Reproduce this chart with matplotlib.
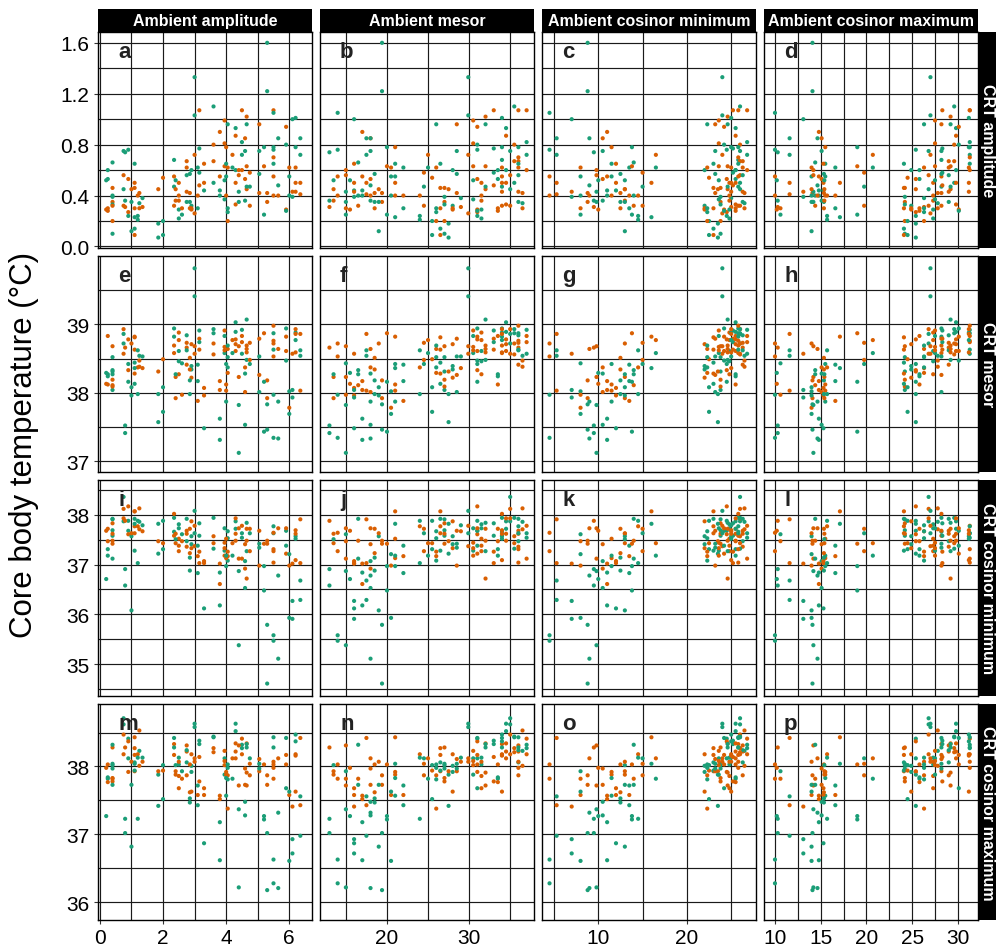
import matplotlib
matplotlib.use("Agg")
import matplotlib.pyplot as plt
from matplotlib.ticker import FormatStrFormatter

plt.rcParams['font.family'] = ['Liberation Sans', 'DejaVu Sans']

# ---------------- data ----------------
# ambient conditions (one stripe per condition)
amb_amp   = [0.25, 0.4, 0.75, 0.9, 1.1, 1.25, 1.35, 1.85, 2.0, 2.35, 2.5, 2.75, 2.9, 3.0, 3.15,
             3.6, 3.95, 4.05, 4.3, 4.5, 4.65, 5.05, 5.5, 5.9, 6.2,
             5.5, 5.3, 6.35, 6.0, 4.4, 4.6, 3.8, 4.0, 3.3, 2.85, 2.4, 3.1, 1.0, 0.4, 1.2,
             4.75, 5.2, 4.2, 0.8, 1.1, 0.2, 2.6, 5.65, 6.1]
amb_mesor = [33.5, 27.0, 35.0, 31.0, 26.5, 36.5, 29.0, 27.5, 25.5, 34.0, 31.5, 36.0, 28.0, 29.9, 33.0,
             35.5, 30.5, 26.0, 34.5, 37.0, 32.0, 28.5, 36.0, 31.0, 34.0,
             14.0, 19.4, 17.5, 20.5, 15.0, 18.0, 17.0, 21.0, 16.0, 18.5, 13.5, 22.0, 19.0, 16.5, 24.0,
             24.5, 20.0, 25.0, 13.0, 21.0, 15.5, 15.0, 18.0, 16.0]
amb_min   = [25.5, 23.8, 26.0, 24.5, 23.0, 26.5, 25.0, 23.5, 22.5, 25.8, 24.8, 26.3, 22.0, 24.0, 25.2,
             26.0, 23.6, 22.3, 25.5, 26.8, 24.6, 23.2, 25.8, 24.2, 25.0,
             4.5, 8.8, 5.3, 8.0, 9.8, 10.5, 11.0, 11.5, 12.0, 12.5, 13.0, 13.5, 13.0, 14.0, 14.5,
             15.0, 13.8, 16.5, 9.5, 16.0, 10.0, 8.0, 9.0, 7.0]
amb_max   = [25.8, 24.2, 26.8, 25.4, 24.1, 27.8, 26.3, 25.4, 24.5, 28.2, 27.3, 29.0, 24.9, 27.0, 28.3,
             29.6, 27.5, 26.3, 29.8, 31.3, 29.2, 28.2, 31.3, 30.1, 31.2,
             10.0, 14.1, 11.6, 14.0, 14.2, 15.1, 14.8, 15.5, 15.3, 15.35, 15.4, 16.6, 14.0, 14.4, 15.7,
             19.75, 19.0, 20.7, 10.3, 17.1, 10.2, 10.6, 14.65, 13.1]

# animals per condition: group (O = orange, G = green) and core body temperature metrics
groups = ["OGOG", "GOGOGO", "GOOG", "GOOG", "OGOGO", "OGO", "GO", "GOG", "GGO", "OGOG", "OGOGO",
          "OOGOG", "GOGO", "GGOO", "OGOG", "GOOG", "OGOGO", "GOGOG", "OGOGO", "OGOG", "GOOGO",
          "OGOG", "OGOG", "OGOG", "OGOGO",
          "GOGO", "GGOO", "GOOG", "GOG", "GOGO", "OGOG", "GOOG", "OGOG", "OGO", "GOGO", "OGO",
          "GOG", "GOG", "GOG", "OGG", "OGO", "GOG", "OG", "GOG", "OG", "GO", "OG", "GOG", "GOG"]
cbt_amp = [[0.30, 0.60, 0.28, 0.53], [0.10, 0.46, 0.39, 0.35, 0.33, 0.20], [0.75, 0.56, 0.32, 0.45],
           [0.76, 0.53, 0.27, 0.24], [0.30, 0.14, 0.46, 0.65, 0.09], [0.42, 0.34, 0.30], [0.38, 0.31],
           [0.07, 0.45, 0.18], [0.09, 0.20, 0.54], [0.55, 0.47, 0.32, 0.68], [0.40, 0.29, 0.50, 0.22, 0.36],
           [0.67, 0.62, 0.56, 0.43, 0.35], [0.32, 0.30, 0.60, 0.29], [1.33, 1.03, 0.72, 0.26],
           [1.07, 0.77, 0.48, 0.58], [1.10, 0.80, 0.67, 0.50], [0.99, 0.52, 0.63, 0.37, 0.81],
           [0.27, 0.62, 0.30, 0.20, 0.96], [0.87, 0.60, 0.50, 0.93, 0.33], [1.07, 0.82, 0.60, 0.72],
           [0.96, 0.63, 0.45, 0.47, 1.02], [0.42, 0.75, 0.96, 0.57], [1.07, 0.78, 0.70, 0.65],
           [0.94, 0.80, 0.29, 0.28], [0.62, 1.01, 0.43, 0.78, 0.50],
           [1.05, 0.55, 0.76, 0.40], [1.60, 1.22, 0.42, 0.35], [0.72, 0.50, 0.41, 0.85], [0.55, 0.62, 0.40],
           [0.35, 0.56, 0.43, 0.60], [0.53, 0.36, 0.85, 0.75], [0.44, 0.55, 0.90, 0.40], [0.78, 0.55, 0.40, 0.65],
           [0.50, 0.44, 0.65], [0.35, 0.42, 0.57, 0.30], [0.45, 0.52, 0.36], [0.30, 0.40, 0.62],
           [0.12, 0.45, 0.35], [0.40, 0.32, 0.66], [0.40, 0.24, 0.21], [0.58, 0.47, 0.32], [0.78, 0.63, 0.25],
           [0.72, 0.62], [0.74, 0.31, 0.36], [0.50, 0.23], [0.52, 0.29], [0.30, 0.25], [0.85, 0.40, 0.48],
           [1.00, 0.43, 0.39]]
cbt_mesor = [[38.83, 38.27, 38.12, 38.24], [38.31, 38.68, 38.04, 38.19, 38.52, 38.09], [38.72, 38.93, 38.57, 38.86],
             [38.42, 38.78, 38.33, 38.16], [38.28, 38.44, 38.63, 38.13, 38.81], [38.38, 38.54, 38.47], [38.53, 38.36],
             [37.98, 38.31, 37.57], [38.08, 37.72, 38.49], [38.69, 38.82, 38.58, 38.94], [38.77, 38.61, 38.88, 38.46, 38.27],
             [38.73, 38.66, 38.62, 38.41, 38.84], [38.34, 38.22, 38.39, 38.71], [39.82, 39.41, 38.57, 38.68],
             [38.79, 38.91, 38.63, 38.74], [38.87, 38.72, 38.56, 38.93], [38.91, 38.58, 38.67, 38.83, 38.62],
             [38.52, 38.64, 38.37, 38.29, 38.69], [38.71, 38.89, 38.78, 39.03, 38.61], [38.74, 38.57, 38.83, 38.92],
             [39.07, 38.69, 38.64, 38.48, 38.59], [38.26, 38.01, 38.79, 38.53], [38.98, 38.87, 38.76, 38.63],
             [38.82, 38.94, 38.61, 38.47], [38.59, 38.88, 38.93, 38.77, 38.86],
             [37.97, 38.53, 37.34, 38.72], [37.46, 37.83, 38.18, 37.92], [38.54, 38.86, 38.03, 38.62], [38.02, 37.78, 37.69],
             [37.12, 38.68, 37.82, 38.23], [38.37, 38.28, 38.01, 37.53], [37.62, 38.04, 38.17, 37.31], [38.03, 37.87, 38.12, 38.42],
             [38.07, 37.48, 37.96], [38.18, 38.34, 37.98, 38.51], [38.23, 38.27, 37.92], [38.41, 37.88, 38.17],
             [37.96, 38.72, 38.08], [38.33, 38.11, 38.27], [38.37, 38.62, 37.98], [38.73, 38.42, 38.48], [38.16, 38.87, 37.43],
             [38.77, 38.58], [37.52, 38.66, 37.41], [38.82, 38.36], [38.29, 38.13], [37.97, 38.43], [37.33, 38.64, 37.87],
             [38.04, 38.57, 37.93]]
cbt_min = [[37.72, 37.18, 37.47, 37.31], [37.91, 37.83, 37.58, 37.42, 37.69, 37.62], [37.87, 38.12, 37.93, 38.36],
           [37.68, 38.17, 37.61, 37.88], [37.63, 37.92, 37.77, 37.28, 38.07], [38.13, 37.86, 37.71], [37.79, 37.67],
           [37.82, 37.47, 37.22], [37.88, 37.31, 37.43], [37.58, 37.94, 38.02, 37.66], [37.38, 37.73, 37.52, 37.81, 37.27],
           [37.62, 37.68, 37.47, 37.36, 37.92], [37.57, 37.33, 37.41, 37.87], [38.08, 37.63, 37.37, 37.78],
           [37.03, 37.58, 37.26, 37.83], [37.32, 37.43, 37.57, 37.94], [37.18, 37.28, 37.44, 37.73, 37.33],
           [37.67, 37.26, 37.53, 37.17, 37.08], [37.48, 37.87, 37.62, 37.72, 37.93], [37.12, 37.54, 37.78, 37.63],
           [37.27, 37.72, 37.48, 37.84, 36.72], [37.68, 37.34, 36.98, 37.42], [37.04, 37.63, 37.31, 37.77],
           [37.22, 37.68, 37.73, 37.38], [37.09, 37.52, 37.69, 37.57, 37.62],
           [35.58, 37.27, 35.47, 37.64], [34.61, 35.79, 37.48, 37.42], [36.29, 37.91, 37.03, 36.68], [35.93, 36.98, 37.21],
           [35.38, 37.73, 36.87, 37.12], [37.41, 37.07, 36.92, 36.53], [36.84, 37.02, 36.61, 36.18], [37.13, 36.97, 37.52, 37.18],
           [37.07, 36.12, 37.03], [37.14, 37.23, 36.88, 37.72], [37.43, 37.51, 37.62], [37.38, 37.17, 36.83],
           [37.57, 37.63, 36.08], [37.92, 37.48, 37.12], [37.77, 37.88, 37.03], [37.27, 37.63, 37.72], [36.48, 37.42, 36.97],
           [37.43, 37.18], [36.58, 37.88, 36.91], [38.07, 37.82], [36.71, 37.68], [37.47, 37.61], [35.11, 37.73, 36.78],
           [35.91, 37.02, 36.27]]
cbt_max = [[38.03, 37.82, 37.77, 37.84], [37.97, 38.28, 38.02, 37.78, 38.04, 37.83], [38.62, 38.47, 38.18, 38.71],
           [38.41, 38.37, 37.92, 38.12], [37.93, 38.06, 38.27, 37.94, 38.17], [38.53, 38.23, 38.01], [38.13, 38.07],
           [37.88, 37.93, 37.42], [38.02, 37.52, 37.94], [38.17, 38.42, 38.33, 38.28], [37.86, 38.03, 38.07, 38.13, 37.68],
           [38.22, 38.31, 38.06, 37.87, 38.24], [37.92, 37.63, 38.01, 38.18], [38.63, 38.58, 38.12, 38.07],
           [38.14, 38.38, 37.78, 38.33], [38.43, 38.21, 38.27, 38.44], [38.23, 37.88, 38.02, 38.12, 38.08],
           [38.03, 37.87, 37.81, 37.38, 37.98], [38.34, 38.52, 38.12, 38.63, 38.22], [38.18, 38.32, 38.41, 38.27],
           [38.28, 38.34, 37.91, 38.33, 37.72], [38.11, 38.04, 37.93, 37.97], [38.07, 38.28, 37.98, 38.43],
           [38.17, 38.42, 38.03, 37.68], [37.63, 38.47, 38.18, 38.37, 38.16],
           [36.63, 37.82, 36.28, 38.03], [36.18, 37.02, 37.87, 37.73], [36.98, 38.42, 37.43, 37.56], [36.61, 37.58, 37.63],
           [36.22, 38.31, 37.37, 37.72], [37.97, 37.48, 37.73, 37.28], [37.18, 37.57, 37.52, 36.62], [37.92, 37.57, 37.88, 37.83],
           [37.58, 36.87, 37.68], [37.53, 37.62, 37.47, 38.03], [37.88, 38.02, 37.93], [37.72, 37.58, 37.43],
           [37.73, 38.07, 36.82], [38.32, 37.82, 37.73], [38.18, 38.13, 37.23], [37.87, 38.12, 38.04], [37.27, 38.03, 37.22],
           [38.12, 37.82], [37.02, 38.28, 37.23], [38.43, 38.04], [37.27, 37.98], [37.82, 37.93], [36.21, 38.12, 37.32],
           [36.93, 37.41, 36.72]]

col_titles = ["Ambient amplitude", "Ambient mesor", "Ambient cosinor minimum", "Ambient cosinor maximum"]
row_titles = ["CRT amplitude", "CRT mesor", "CRT cosinor minimum", "CRT cosinor maximum"]
panel_letters = list("abcdefghijklmnop")
ylabel = "Core body temperature (°C)"

x_major = [[0, 2, 4, 6], [20, 30], [10, 20], [10, 15, 20, 25, 30]]
x_minor = [[1, 3, 5], [15, 25, 35], [5, 15, 25], [12.5, 17.5, 22.5, 27.5]]
y_major = [[0.0, 0.4, 0.8, 1.2, 1.6], [37, 38, 39], [35, 36, 37, 38], [36, 37, 38]]
y_minor = [[0.2, 0.6, 1.0, 1.4], [37.5, 38.5, 39.5], [34.5, 35.5, 36.5, 37.5, 38.5], [36.5, 37.5, 38.5]]
xlims = [(-0.06, 6.72), (11.85, 37.9), (3.65, 27.8), (8.8, 32.2)]
ylims = [(-0.012, 1.685), (36.84, 40.0), (34.36, 38.70), (35.74, 38.92)]

colors = {"O": "#D95F02", "G": "#1B9E77"}

# flatten animals
xs_cols = [amb_amp, amb_mesor, amb_min, amb_max]
ys_rows = [cbt_amp, cbt_mesor, cbt_min, cbt_max]
flat_x = [[], [], [], []]
flat_y = [[], [], [], []]
flat_c = []
for ci, g in enumerate(groups):
    for k, letter in enumerate(g):
        flat_c.append(colors[letter])
        for j in range(4):
            flat_x[j].append(xs_cols[j][ci])
        for i in range(4):
            flat_y[i].append(ys_rows[i][ci][k])

# ---------------- layout ----------------
W, H = 996, 953
fig = plt.figure(figsize=(W / 100, H / 100), dpi=100)
col_left = [98, 320, 542, 764]
pw = 214
row_top = [33, 257, 481, 705]
ph = 216


def fx(px):
    return px / W


def fy(py):
    return 1 - py / H


grid_c = "#1a1a1a"
for i in range(4):
    for j in range(4):
        ax = fig.add_axes([fx(col_left[j]), fy(row_top[i] + ph), pw / W, ph / H])
        ax.set_xlim(*xlims[j])
        ax.set_ylim(*ylims[i])
        ax.set_xticks(x_major[j])
        ax.set_xticks(x_minor[j], minor=True)
        ax.set_yticks(y_major[i])
        ax.set_yticks(y_minor[i], minor=True)
        ax.grid(True, which="major", color=grid_c, lw=0.85, zorder=0)
        ax.grid(True, which="minor", color=grid_c, lw=0.85, zorder=0)
        ax.set_axisbelow(True)
        ax.scatter(flat_x[j], flat_y[i], s=9, c=flat_c, edgecolors="none", zorder=3)
        for sp in ax.spines.values():
            sp.set_color("black")
            sp.set_linewidth(1.0)
        ax.tick_params(which="both", length=0)
        ax.tick_params(which="major", length=3, color="#333333", width=0.8,
                       labelsize=15, pad=3)
        if i == 0:
            ax.yaxis.set_major_formatter(FormatStrFormatter("%.1f"))
        else:
            ax.yaxis.set_major_formatter(FormatStrFormatter("%d"))
        ax.xaxis.set_major_formatter(FormatStrFormatter("%d"))
        if j != 0:
            ax.tick_params(axis="y", which="both", labelleft=False, length=0)
        if i != 3:
            ax.tick_params(axis="x", which="both", labelbottom=False, length=0)
        ax.text(20 / pw, 1 - 25 / ph, panel_letters[i * 4 + j], transform=ax.transAxes,
                fontsize=16, fontweight="bold", color="#222222", ha="left", va="baseline", zorder=5)

# strips
for j in range(4):
    sax = fig.add_axes([fx(col_left[j]), fy(33), pw / W, 23 / H])
    sax.set_facecolor("black")
    sax.set_xticks([]); sax.set_yticks([])
    for sp in sax.spines.values():
        sp.set_visible(False)
    sax.text(0.5, 0.5, col_titles[j], color="white", fontsize=11.5, fontweight="bold",
             ha="center", va="center", transform=sax.transAxes)
for i in range(4):
    sax = fig.add_axes([fx(978), fy(row_top[i] + ph), 19 / W, ph / H])
    sax.set_facecolor("black")
    sax.set_xticks([]); sax.set_yticks([])
    for sp in sax.spines.values():
        sp.set_visible(False)
    sax.text(0.5, 0.5, row_titles[i], color="white", fontsize=11.5, fontweight="bold",
             ha="center", va="center", rotation=-90, transform=sax.transAxes)

fig.text(fx(24), fy(445), ylabel, rotation=90, fontsize=22.5, ha="center", va="center")

fig.savefig("out.png", dpi=100)
